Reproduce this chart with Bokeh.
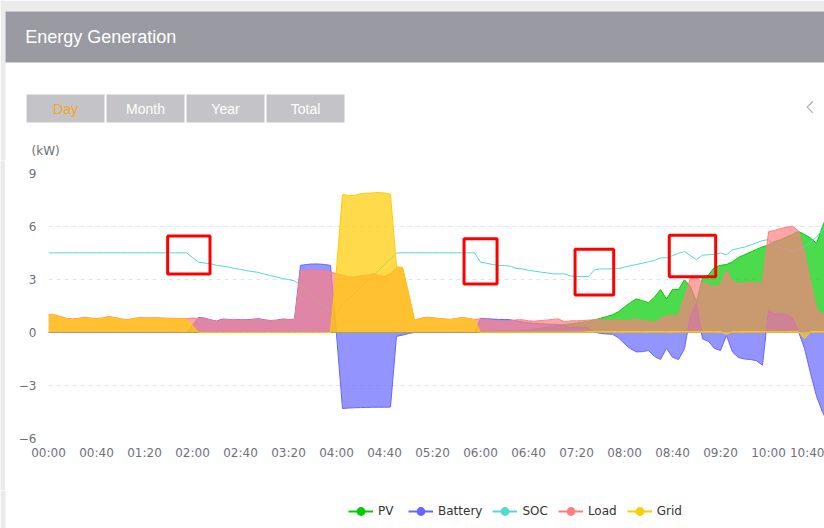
from bokeh.plotting import figure
from bokeh.models import ColumnDataSource, Range1d, FixedTicker, Legend, LegendItem
from bokeh.layouts import column, row
from bokeh.embed import file_html
from bokeh.resources import INLINE
from bokeh.core.properties import value

# ---------------- data (5-minute samples, minutes after midnight) ----------------
times = list(range(0, 655, 5))

pv = [
    0, 0, 0, 0, 0, 0, 0, 0, 0, 0, 0, 0,
    0, 0, 0, 0, 0, 0, 0, 0, 0, 0, 0, 0,
    0, 0, 0, 0, 0, 0, 0, 0, 0, 0, 0, 0,
    0, 0, 0, 0, 0, 0, 0, 0, 0, 0, 0, 0,
    0, 0, 0, 0, 0, 0, 0, 0, 0, 0, 0, 0,
    0, 0, 0, 0, 0, 0, 0, 0, 0, 0, 0, 0,
    0.05, 0.06, 0.07, 0.08, 0.08, 0.09, 0.10, 0.10, 0.12, 0.18, 0.24, 0.30,
    0.36, 0.40, 0.45, 0.49, 0.53, 0.58, 0.64, 0.72, 0.80, 0.90, 1.00, 1.18,
    1.45, 1.70, 1.90, 1.80, 1.68, 2.00, 2.43, 1.90, 2.43, 2.43, 2.98, 2.60,
    1.72, 3.10, 3.25, 3.70, 3.80, 3.85, 4.00, 4.25, 4.40, 4.55, 4.70, 4.85,
    4.95, 5.15, 5.25, 5.40, 5.55, 5.72, 5.55, 5.35, 5.05, 6.00, 6.80,
]

battery = [
    0, 0, 0, 0, 0, 0, 0, 0, 0, 0, 0, 0,
    0, 0, 0, 0, 0, 0, 0, 0, 0, 0, 0, 0,
    0.40, 0.85, 0.82, 0.72, 0.65, 0.76, 0.74, 0.74, 0.72, 0.72, 0.75, 0.78,
    0.72, 0.68, 0.70, 0.76, 0.74, 0.75, 3.80, 3.85, 3.88, 3.88, 3.85, 3.80,
    -0.10, -4.30, -4.28, -4.26, -4.25, -4.24, -4.23, -4.23, -4.23, -4.22, -0.22, -0.15,
    -0.06, 0, 0, 0, 0, 0, 0, 0, 0, 0, 0, 0,
    0.80, 0.78, 0.76, 0.74, 0.74, 0.72, 0.66, 0.60, 0.55, 0.52, 0.50, 0.48,
    0.46, 0.45, 0.40, 0.30, 0.32, 0.30, 0.25, 0.02, -0.05, -0.08, -0.10, -0.30,
    -0.64, -0.92, -1.10, -1.08, -1.02, -1.35, -1.53, -0.89, -1.40, -1.53, -0.92, 1.00,
    1.72, -0.36, -0.50, -0.90, -1.02, -0.17, -1.10, -1.42, -1.50, -1.53, -1.60, -1.85,
    1.25, 1.06, 1.05, 1.02, 0.85, 0.05, -0.90, -2.30, -3.60, -4.50, -5.20,
]

soc = [
    4.51, 4.51, 4.51, 4.51, 4.51, 4.51, 4.51, 4.51, 4.51, 4.51, 4.51, 4.51,
    4.51, 4.51, 4.51, 4.51, 4.51, 4.51, 4.51, 4.51, 4.51, 4.51, 4.51, 4.51,
    4.25, 3.98, 3.93, 3.90, 3.80, 3.76, 3.70, 3.62, 3.58, 3.50, 3.45, 3.40,
    3.30, 3.22, 3.15, 3.05, 3.00, 2.92, 2.68, 2.42, 2.10, 1.75, 1.42, 1.18,
    1.10, 1.60, 1.90, 2.20, 2.55, 2.88, 3.20, 3.50, 3.85, 4.15, 4.50, 4.51,
    4.51, 4.51, 4.51, 4.51, 4.51, 4.51, 4.51, 4.51, 4.51, 4.51, 4.51, 4.51,
    3.98, 3.92, 3.85, 3.79, 3.79, 3.75, 3.62, 3.60, 3.52, 3.47, 3.42, 3.38,
    3.32, 3.32, 3.32, 3.20, 3.17, 3.17, 3.17, 3.55, 3.60, 3.60, 3.60, 3.62,
    3.70, 3.78, 3.85, 3.92, 4.00, 4.08, 4.22, 4.23, 4.35, 4.48, 4.58, 4.35,
    4.12, 4.38, 4.40, 4.42, 4.50, 4.40, 4.68, 4.76, 4.84, 4.95, 5.08, 5.20,
    5.26, 4.90, 4.80, 4.70, 4.58, 4.68, 4.85, 5.10, 5.40, 5.80, 6.20,
]

load = [
    1.00, 1.00, 0.90, 0.80, 0.77, 0.80, 0.86, 0.82, 0.80, 0.82, 0.90, 0.85,
    0.78, 0.72, 0.78, 0.84, 0.83, 0.83, 0.83, 0.82, 0.81, 0.80, 0.79, 0.78,
    0.82, 0.80, 0.80, 0.70, 0.63, 0.72, 0.72, 0.72, 0.70, 0.68, 0.72, 0.74,
    0.70, 0.66, 0.68, 0.72, 0.72, 0.72, 3.47, 3.52, 3.55, 3.52, 3.50, 3.42,
    3.32, 3.25, 3.15, 3.13, 3.20, 3.25, 3.32, 3.25, 3.15, 3.32, 3.66, 3.66,
    2.20, 0.70, 0.80, 0.86, 0.84, 0.80, 0.77, 0.74, 0.80, 0.85, 0.80, 0.74,
    0.77, 0.74, 0.68, 0.64, 0.63, 0.65, 0.72, 0.72, 0.66, 0.64, 0.68, 0.70,
    0.74, 0.77, 0.60, 0.66, 0.66, 0.68, 0.70, 0.72, 0.72, 0.70, 0.68, 0.70,
    0.65, 0.70, 0.74, 0.68, 0.62, 0.58, 0.78, 0.92, 0.95, 0.96, 2.00, 3.10,
    3.13, 2.80, 2.70, 2.57, 2.70, 3.50, 2.90, 2.75, 2.78, 2.85, 2.80, 2.75,
    5.70, 5.77, 5.88, 5.96, 6.02, 5.75, 4.50, 2.85, 1.34, 1.00, 1.20,
]

grid = [
    0.97, 0.97, 0.87, 0.77, 0.74, 0.77, 0.83, 0.79, 0.77, 0.79, 0.87, 0.82,
    0.75, 0.69, 0.75, 0.81, 0.80, 0.80, 0.80, 0.79, 0.78, 0.77, 0.76, 0.75,
    0.40, 0, 0, 0, 0, 0, 0, 0, 0, 0, 0, 0,
    0, 0, 0, 0, 0, 0, 0, 0, 0, 0, 0, 0,
    3.60, 7.81, 7.76, 7.76, 7.85, 7.88, 7.90, 7.92, 7.90, 7.82, 3.72, 3.68,
    2.20, 0.68, 0.78, 0.84, 0.82, 0.78, 0.75, 0.72, 0.78, 0.83, 0.78, 0.72,
    0.00, 0.02, 0.02, 0.02, 0.02, 0.02, 0.02, 0.02, 0.02, 0.02, 0.02, 0.02,
    0.02, 0.02, 0.02, 0.02, 0.02, 0.02, 0.05, 0.05, 0.05, 0.05, 0.05, 0.05,
    0.05, 0.05, 0.05, 0.05, 0.05, 0.05, 0.05, 0.05, 0.05, 0.05, 0.05, 0.05,
    0.05, 0.05, 0.05, 0.05, 0.05, -0.10, 0.05, 0.05, 0.05, 0.05, 0.05, 0.05,
    0.05, 0.05, 0.05, 0.05, 0.05, 0.05, -0.35, 0.05, 0.05, 0.05, 0.05,
]

series_names = ["PV", "Battery", "SOC", "Load", "Grid"]
tabs = ["Day", "Month", "Year", "Total"]
tick_values = [0, 40, 80, 120, 160, 200, 240, 280, 320, 360, 400, 440, 480, 520, 560, 600, 640]
tick_labels = ["00:00", "00:40", "01:20", "02:00", "02:40", "03:20", "04:00", "04:40",
               "05:20", "06:00", "06:40", "07:20", "08:00", "08:40", "09:20", "10:00", "10:40"]
y_ticks = [-6, -3, 0, 3, 6, 9]

# highlight boxes drawn on the screenshot (minutes, kW)
box_t0 = [99.3, 346.3, 438.8, 517.3]
box_t1 = [134.6, 373.8, 471.0, 556.0]
box_top = [5.46, 5.31, 4.71, 5.50]
box_bot = [3.31, 2.74, 2.12, 3.16]

# ---------------- styles ----------------
W = 824
STRIP = 5
COL = {"PV": "#00cc00", "Battery": "#6666ff", "SOC": "#52d9d0", "Load": "#ff7f7f", "Grid": "#ffcc00"}
AXIS_TXT = "#6e7079"
PAGE_BG = "#ebebeb"


def blank(width, height, x_end, y_start, y_end, bg="white"):
    f = figure(width=width, height=height, x_range=Range1d(0, x_end), y_range=Range1d(y_start, y_end),
               output_backend="svg", toolbar_location=None, min_border=0,
               x_axis_location=None, y_axis_location=None, outline_line_color=None)
    f.frame_align = False
    f.grid.visible = False
    f.background_fill_color = bg
    f.border_fill_color = bg
    return f


# ---------------- header figure ----------------
HH = 160
head = blank(W, HH, W, HH, 0)
head.quad(left=[0], right=[W], top=[0], bottom=[11], fill_color=PAGE_BG, line_color=None)
head.quad(left=[0], right=[STRIP], top=[0], bottom=[HH], fill_color=PAGE_BG, line_color=None)
head.quad(left=[STRIP], right=[W], top=[11], bottom=[62], fill_color="#9a9aa2", line_color=None)
head.text(x=[24.7], y=[36.8], text=["Energy Generation"], text_font=value("Liberation Sans"),
          text_font_size="18px", text_color="#ffffff", text_baseline="middle", text_align="left")

btn_left = [26, 106, 186, 266]
btn_w = 78
head.quad(left=btn_left, right=[b + btn_w for b in btn_left], top=94, bottom=122,
          fill_color="#c4c4c8", line_color=None)
head.text(x=[b + btn_w / 2 for b in btn_left], y=[108] * 4, text=tabs,
          text_color=["#f5a623", "#ffffff", "#ffffff", "#ffffff"],
          text_font=value("Liberation Sans"), text_font_size="14px",
          text_align="center", text_baseline="middle")
head.line(x=[812.3, 806.7, 812.3], y=[101, 106.7, 112.3], line_color="#a8adb5", line_width=1.2)
head.text(x=[31], y=[150.7], text=["(kW)"], text_font=value("DejaVu Sans"), text_font_size="12px",
          text_color=AXIS_TXT, text_baseline="middle", text_align="left")

# ---------------- chart figure ----------------
CH = 330
strip = blank(STRIP, CH, 1, 0, 1, bg=PAGE_BG)

p = figure(width=W - STRIP, height=CH, x_range=Range1d(0, 646.67), y_range=Range1d(-6, 9),
           output_backend="svg", toolbar_location=None,
           min_border_left=48 - STRIP, min_border_right=0, min_border_top=13, min_border_bottom=52)
p.frame_align = False
p.outline_line_color = None
p.background_fill_color = "white"
p.border_fill_color = "white"

p.xaxis.ticker = FixedTicker(ticks=tick_values)
p.xaxis.major_label_overrides = {v: s for v, s in zip(tick_values, tick_labels)}
p.yaxis.ticker = FixedTicker(ticks=y_ticks)
for ax in p.axis:
    ax.axis_line_color = None
    ax.major_tick_line_color = None
    ax.minor_tick_line_color = None
    ax.major_tick_in = 0
    ax.major_tick_out = 0
    ax.major_label_text_font = "DejaVu Sans"
    ax.major_label_text_font_size = "12px"
    ax.major_label_text_color = AXIS_TXT
p.xaxis.major_label_standoff = 7
p.yaxis.major_label_standoff = 12
p.xgrid.visible = False
p.ygrid.grid_line_color = "#e0e6f1"
p.ygrid.grid_line_dash = "4 4"
p.ygrid.grid_line_width = 1

src = ColumnDataSource(dict(t=times, PV=pv, Battery=battery, SOC=soc, Load=load, Grid=grid))
for name in series_names:
    if name != "SOC":
        p.varea(x="t", y1=0, y2=name, source=src, fill_color=COL[name], fill_alpha=0.7)
    p.line(x="t", y=name, source=src, line_color=COL[name], line_width=1)

p.quad(left=box_t0, right=box_t1, top=box_top, bottom=box_bot,
       fill_alpha=0, line_color="#ff0000", line_width=3)

mid = row(strip, p, spacing=0)

# ---------------- legend figure ----------------
LH = 38
leg = blank(W, LH, W, 0, LH)
leg.quad(left=[0], right=[STRIP], top=[LH], bottom=[0], fill_color=PAGE_BG, line_color=None)
items = []
for name in series_names:
    hidden = ColumnDataSource(dict(x=[-100, -90], y=[-100, -100]))
    lr = leg.line(x="x", y="y", source=hidden, line_color=COL[name], line_width=2)
    cr = leg.scatter(x="x", y="y", source=hidden, marker="circle", size=9,
                     fill_color=COL[name], line_color=None)
    items.append(LegendItem(label=name, renderers=[lr, cr]))
legend = Legend(items=items, orientation="horizontal", location=(348, 6),
                glyph_width=25, glyph_height=22, label_height=22, label_standoff=5,
                spacing=10, padding=0, margin=0, border_line_color=None,
                background_fill_alpha=0, label_text_font="DejaVu Sans",
                label_text_font_size="12px", label_text_color="#333333")
leg.add_layout(legend)

layout = column(head, mid, leg, spacing=0)
open("out.html", "w").write(file_html(layout, INLINE))
